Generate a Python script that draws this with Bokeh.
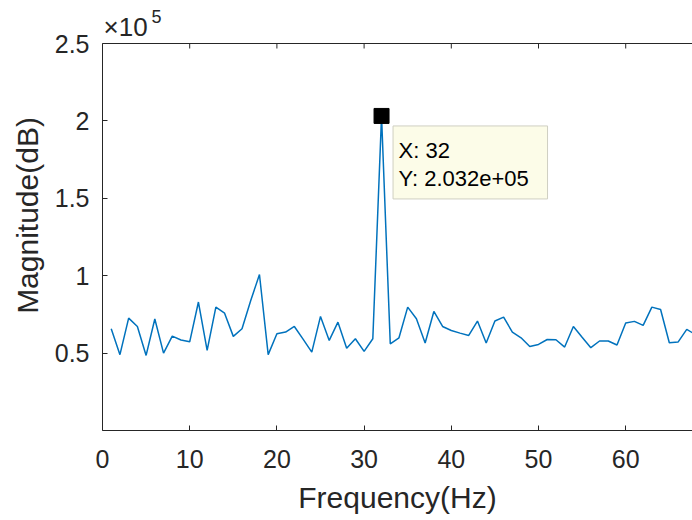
from bokeh.plotting import figure
from bokeh.models import Range1d, FixedTicker, Label, BoxAnnotation, Span
from bokeh.embed import file_html
from bokeh.resources import INLINE

# ---- data ----
freq = list(range(1, 69))
magnitude = [
    65700, 49000, 72600, 67200, 48500, 72000, 50000, 61000, 58500, 57300,
    83000, 51700, 79700, 75800, 60800, 65700, 84000, 100800, 49000, 62500,
    63600, 67200, 59000, 50600, 73700, 58200, 70000, 53200, 59300, 51100,
    59300, 203200, 56000, 59900, 79700, 72200, 56500, 76900, 67200, 64600,
    62900, 61400, 70700, 56500, 70700, 73200, 63600, 59900, 54300, 55600,
    58800, 58600, 53900, 67200, 60300, 53500, 57800, 57800, 55200, 69400,
    70500, 67900, 79700, 78200, 56700, 57100, 65300, 62000,
]
x_ticks = [0, 10, 20, 30, 40, 50, 60]
y_ticks = [50000, 100000, 150000, 200000, 250000]
y_tick_labels = ["0.5", "1", "1.5", "2", "2.5"]
x_label = "Frequency(Hz)"
y_label = "Magnitude(dB)"
x_max = 67.66
y_max = 250000

FONT = "Liberation Sans"
AX = "#262626"

ux = x_max / 590.0          # data units per pixel (x)
uy = y_max / 387.0          # data units per pixel (y)

p = figure(width=692, height=520, x_range=Range1d(0, x_max),
           y_range=Range1d(0, y_max + 43 * uy),
           output_backend="svg", toolbar_location=None,
           min_border_left=102, min_border_right=0, min_border_top=0, min_border_bottom=90)
p.title.visible = False
p.outline_line_color = None
p.xgrid.visible = False
p.ygrid.visible = False
p.background_fill_color = "white"
p.border_fill_color = "white"

for ax in (p.xaxis[0], p.yaxis[0]):
    ax.axis_line_color = AX
    ax.axis_line_width = 1
    ax.major_tick_line_color = AX
    ax.major_tick_in = 5
    ax.major_tick_out = 0
    ax.minor_tick_line_color = None
    ax.major_label_text_font = FONT
    ax.major_label_text_font_size = "25px"
    ax.major_label_text_color = AX
    ax.axis_label_text_font = FONT
    ax.axis_label_text_font_size = "30px"
    ax.axis_label_text_font_style = "normal"
    ax.axis_label_text_color = AX

p.xaxis[0].ticker = FixedTicker(ticks=x_ticks)
p.xaxis[0].major_label_standoff = 19
p.xaxis[0].axis_label = x_label
p.xaxis[0].axis_label_standoff = 10

p.yaxis[0].ticker = FixedTicker(ticks=y_ticks)
p.yaxis[0].bounds = (0, y_max)
p.yaxis[0].major_label_overrides = {t: s for t, s in zip(y_ticks, y_tick_labels)}
p.yaxis[0].major_label_standoff = 13
p.yaxis[0].axis_label = y_label
p.yaxis[0].axis_label_standoff = 8

# top box edge with inward ticks
p.add_layout(Span(location=y_max, dimension="width", line_color=AX, line_width=1))
p.segment(x0=x_ticks, y0=[y_max] * len(x_ticks), x1=x_ticks,
          y1=[y_max - 5 * uy] * len(x_ticks), line_color=AX, line_width=1)

p.line(freq, magnitude, line_color="#0072BD", line_width=1.5)

# data tip
i_peak = max(range(len(magnitude)), key=lambda i: magnitude[i])
px, py = freq[i_peak], magnitude[i_peak]
p.add_layout(BoxAnnotation(left=px + 11.5 * ux, right=px + 166 * ux,
                           top=py - 10 * uy, bottom=py - 83 * uy,
                           fill_color="#FCFCE8", fill_alpha=1.0,
                           line_color="#CFCFC2", line_alpha=1.0, line_width=1,
                           level="annotation"))
p.add_layout(Label(x=px + 17 * ux, y=py - 35 * uy, text=f"X: {px}", text_font=FONT,
                   text_font_size="22px", text_color="black", text_baseline="middle",
                   level="overlay"))
p.add_layout(Label(x=px + 17 * ux, y=py - 63 * uy, text=f"Y: {py:.3e}", text_font=FONT,
                   text_font_size="22px", text_color="black", text_baseline="middle",
                   level="overlay"))
p.scatter([px], [py], marker="square", size=15, fill_color="black", line_color="black")

# exponent label
p.add_layout(Label(x=1 * ux, y=y_max + 17 * uy, text="\u00d710", text_font=FONT,
                   text_font_size="26px", text_color=AX, text_baseline="middle",
                   level="overlay"))
p.add_layout(Label(x=49 * ux, y=y_max + 27 * uy, text="5", text_font=FONT,
                   text_font_size="18px", text_color=AX, text_baseline="middle",
                   level="overlay"))

open("out.html", "w").write(file_html(p, INLINE))
